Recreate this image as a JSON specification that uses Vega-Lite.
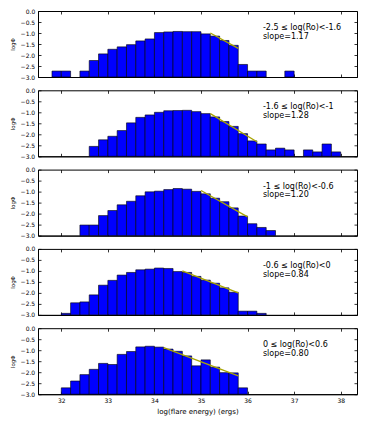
{
  "$schema": "https://vega.github.io/schema/vega-lite/v6.json",
  "padding": {"left": 9, "top": 7, "right": 5, "bottom": 3},
  "background": "white",
  "spacing": 13.3,
  "bounds": "flush",
  "config": {
    "font": "DejaVu Sans",
    "view": {"stroke": "black", "strokeWidth": 1},
    "axis": {
      "grid": false,
      "domainColor": "black",
      "domainWidth": 1,
      "tickColor": "black",
      "tickWidth": 0.8,
      "tickSize": -3,
      "labelColor": "black",
      "titleColor": "black",
      "labelFont": "DejaVu Sans",
      "titleFont": "DejaVu Sans",
      "labelFontSize": 6,
      "titleFontSize": 6,
      "titleFontWeight": "normal"
    }
  },
  "datasets": {
    "bars": [
      {"panel": 1, "lo": 31.8, "hi": 32.0, "v": -2.73},
      {"panel": 1, "lo": 32.0, "hi": 32.2, "v": -2.73},
      {"panel": 1, "lo": 32.4, "hi": 32.6, "v": -2.73},
      {"panel": 1, "lo": 32.6, "hi": 32.8, "v": -2.25},
      {"panel": 1, "lo": 32.8, "hi": 33.0, "v": -1.95},
      {"panel": 1, "lo": 33.0, "hi": 33.2, "v": -1.74},
      {"panel": 1, "lo": 33.2, "hi": 33.4, "v": -1.63},
      {"panel": 1, "lo": 33.4, "hi": 33.6, "v": -1.53},
      {"panel": 1, "lo": 33.6, "hi": 33.8, "v": -1.36},
      {"panel": 1, "lo": 33.8, "hi": 34.0, "v": -1.27},
      {"panel": 1, "lo": 34.0, "hi": 34.2, "v": -0.98},
      {"panel": 1, "lo": 34.2, "hi": 34.4, "v": -0.95},
      {"panel": 1, "lo": 34.4, "hi": 34.6, "v": -0.93},
      {"panel": 1, "lo": 34.6, "hi": 34.8, "v": -0.94},
      {"panel": 1, "lo": 34.8, "hi": 35.0, "v": -0.94},
      {"panel": 1, "lo": 35.0, "hi": 35.2, "v": -1.04},
      {"panel": 1, "lo": 35.2, "hi": 35.4, "v": -1.14},
      {"panel": 1, "lo": 35.4, "hi": 35.6, "v": -1.34},
      {"panel": 1, "lo": 35.6, "hi": 35.8, "v": -1.56},
      {"panel": 1, "lo": 35.8, "hi": 36.0, "v": -2.43},
      {"panel": 1, "lo": 36.0, "hi": 36.2, "v": -2.73},
      {"panel": 1, "lo": 36.2, "hi": 36.4, "v": -2.73},
      {"panel": 1, "lo": 36.8, "hi": 37.0, "v": -2.73},

      {"panel": 2, "lo": 32.6, "hi": 32.8, "v": -2.55},
      {"panel": 2, "lo": 32.8, "hi": 33.0, "v": -2.25},
      {"panel": 2, "lo": 33.0, "hi": 33.2, "v": -2.09},
      {"panel": 2, "lo": 33.2, "hi": 33.4, "v": -1.83},
      {"panel": 2, "lo": 33.4, "hi": 33.6, "v": -1.48},
      {"panel": 2, "lo": 33.6, "hi": 33.8, "v": -1.23},
      {"panel": 2, "lo": 33.8, "hi": 34.0, "v": -1.12},
      {"panel": 2, "lo": 34.0, "hi": 34.2, "v": -1.00},
      {"panel": 2, "lo": 34.2, "hi": 34.4, "v": -0.93},
      {"panel": 2, "lo": 34.4, "hi": 34.6, "v": -0.92},
      {"panel": 2, "lo": 34.6, "hi": 34.8, "v": -0.91},
      {"panel": 2, "lo": 34.8, "hi": 35.0, "v": -0.97},
      {"panel": 2, "lo": 35.0, "hi": 35.2, "v": -1.06},
      {"panel": 2, "lo": 35.2, "hi": 35.4, "v": -1.21},
      {"panel": 2, "lo": 35.4, "hi": 35.6, "v": -1.42},
      {"panel": 2, "lo": 35.6, "hi": 35.8, "v": -1.64},
      {"panel": 2, "lo": 35.8, "hi": 36.0, "v": -1.97},
      {"panel": 2, "lo": 36.0, "hi": 36.2, "v": -2.30},
      {"panel": 2, "lo": 36.2, "hi": 36.4, "v": -2.44},
      {"panel": 2, "lo": 36.4, "hi": 36.6, "v": -2.71},
      {"panel": 2, "lo": 36.6, "hi": 36.8, "v": -2.63},
      {"panel": 2, "lo": 36.8, "hi": 37.0, "v": -2.71},
      {"panel": 2, "lo": 37.2, "hi": 37.4, "v": -2.71},
      {"panel": 2, "lo": 37.4, "hi": 37.6, "v": -2.80},
      {"panel": 2, "lo": 37.6, "hi": 37.8, "v": -2.44},
      {"panel": 2, "lo": 37.8, "hi": 38.0, "v": -2.80},

      {"panel": 3, "lo": 32.4, "hi": 32.6, "v": -2.52},
      {"panel": 3, "lo": 32.6, "hi": 32.8, "v": -2.52},
      {"panel": 3, "lo": 32.8, "hi": 33.0, "v": -2.09},
      {"panel": 3, "lo": 33.0, "hi": 33.2, "v": -1.86},
      {"panel": 3, "lo": 33.2, "hi": 33.4, "v": -1.60},
      {"panel": 3, "lo": 33.4, "hi": 33.6, "v": -1.44},
      {"panel": 3, "lo": 33.6, "hi": 33.8, "v": -1.19},
      {"panel": 3, "lo": 33.8, "hi": 34.0, "v": -1.01},
      {"panel": 3, "lo": 34.0, "hi": 34.2, "v": -0.98},
      {"panel": 3, "lo": 34.2, "hi": 34.4, "v": -0.91},
      {"panel": 3, "lo": 34.4, "hi": 34.6, "v": -0.86},
      {"panel": 3, "lo": 34.6, "hi": 34.8, "v": -0.89},
      {"panel": 3, "lo": 34.8, "hi": 35.0, "v": -0.99},
      {"panel": 3, "lo": 35.0, "hi": 35.2, "v": -1.10},
      {"panel": 3, "lo": 35.2, "hi": 35.4, "v": -1.30},
      {"panel": 3, "lo": 35.4, "hi": 35.6, "v": -1.46},
      {"panel": 3, "lo": 35.6, "hi": 35.8, "v": -1.74},
      {"panel": 3, "lo": 35.8, "hi": 36.0, "v": -2.11},
      {"panel": 3, "lo": 36.0, "hi": 36.2, "v": -2.46},
      {"panel": 3, "lo": 36.2, "hi": 36.4, "v": -2.63},
      {"panel": 3, "lo": 36.4, "hi": 36.6, "v": -2.77},

      {"panel": 4, "lo": 32.0, "hi": 32.2, "v": -2.93},
      {"panel": 4, "lo": 32.2, "hi": 32.4, "v": -2.45},
      {"panel": 4, "lo": 32.4, "hi": 32.6, "v": -2.41},
      {"panel": 4, "lo": 32.6, "hi": 32.8, "v": -2.09},
      {"panel": 4, "lo": 32.8, "hi": 33.0, "v": -1.65},
      {"panel": 4, "lo": 33.0, "hi": 33.2, "v": -1.43},
      {"panel": 4, "lo": 33.2, "hi": 33.4, "v": -1.19},
      {"panel": 4, "lo": 33.4, "hi": 33.6, "v": -1.07},
      {"panel": 4, "lo": 33.6, "hi": 33.8, "v": -0.95},
      {"panel": 4, "lo": 33.8, "hi": 34.0, "v": -0.92},
      {"panel": 4, "lo": 34.0, "hi": 34.2, "v": -0.87},
      {"panel": 4, "lo": 34.2, "hi": 34.4, "v": -0.89},
      {"panel": 4, "lo": 34.4, "hi": 34.6, "v": -1.03},
      {"panel": 4, "lo": 34.6, "hi": 34.8, "v": -1.07},
      {"panel": 4, "lo": 34.8, "hi": 35.0, "v": -1.25},
      {"panel": 4, "lo": 35.0, "hi": 35.2, "v": -1.42},
      {"panel": 4, "lo": 35.2, "hi": 35.4, "v": -1.56},
      {"panel": 4, "lo": 35.4, "hi": 35.6, "v": -1.77},
      {"panel": 4, "lo": 35.6, "hi": 35.8, "v": -1.97},
      {"panel": 4, "lo": 35.8, "hi": 36.0, "v": -2.83},
      {"panel": 4, "lo": 36.0, "hi": 36.2, "v": -2.83},
      {"panel": 4, "lo": 36.2, "hi": 36.4, "v": -2.93},

      {"panel": 5, "lo": 32.0, "hi": 32.2, "v": -2.71},
      {"panel": 5, "lo": 32.2, "hi": 32.4, "v": -2.40},
      {"panel": 5, "lo": 32.4, "hi": 32.6, "v": -2.11},
      {"panel": 5, "lo": 32.6, "hi": 32.8, "v": -1.87},
      {"panel": 5, "lo": 32.8, "hi": 33.0, "v": -1.60},
      {"panel": 5, "lo": 33.0, "hi": 33.2, "v": -1.65},
      {"panel": 5, "lo": 33.2, "hi": 33.4, "v": -1.19},
      {"panel": 5, "lo": 33.4, "hi": 33.6, "v": -1.06},
      {"panel": 5, "lo": 33.6, "hi": 33.8, "v": -0.85},
      {"panel": 5, "lo": 33.8, "hi": 34.0, "v": -0.82},
      {"panel": 5, "lo": 34.0, "hi": 34.2, "v": -0.86},
      {"panel": 5, "lo": 34.2, "hi": 34.4, "v": -0.95},
      {"panel": 5, "lo": 34.4, "hi": 34.6, "v": -1.05},
      {"panel": 5, "lo": 34.6, "hi": 34.8, "v": -1.26},
      {"panel": 5, "lo": 34.8, "hi": 35.0, "v": -1.71},
      {"panel": 5, "lo": 35.0, "hi": 35.2, "v": -1.44},
      {"panel": 5, "lo": 35.2, "hi": 35.4, "v": -1.77},
      {"panel": 5, "lo": 35.4, "hi": 35.6, "v": -2.02},
      {"panel": 5, "lo": 35.6, "hi": 35.8, "v": -2.03},
      {"panel": 5, "lo": 35.8, "hi": 36.0, "v": -2.71}
    ],
    "fits": [
      {"panel": 1, "e": 35.2, "v": -1.0},
      {"panel": 1, "e": 35.8, "v": -1.70},
      {"panel": 2, "e": 35.2, "v": -1.06},
      {"panel": 2, "e": 36.2, "v": -2.34},
      {"panel": 3, "e": 35.0, "v": -0.95},
      {"panel": 3, "e": 36.0, "v": -2.15},
      {"panel": 4, "e": 34.6, "v": -1.0},
      {"panel": 4, "e": 35.8, "v": -2.0},
      {"panel": 5, "e": 34.2, "v": -0.88},
      {"panel": 5, "e": 35.8, "v": -2.17}
    ],
    "notes": [
      {"panel": 1, "lines": ["-2.5 ≤ log(Ro)<-1.6", "\u00a0slope=1.17"]},
      {"panel": 2, "lines": ["-1.6 ≤ log(Ro)<-1", "\u00a0slope=1.28"]},
      {"panel": 3, "lines": ["-1 ≤ log(Ro)<-0.6", "\u00a0slope=1.20"]},
      {"panel": 4, "lines": ["-0.6 ≤ log(Ro)<0", "\u00a0slope=0.84"]},
      {"panel": 5, "lines": ["0 ≤ log(Ro)<0.6", "\u00a0slope=0.80"]}
    ]
  },
  "vconcat": [
    {
      "width": 319, "height": 66,
      "layer": [
        {"data": {"name": "bars"}, "transform": [{"filter": "datum.panel == 1"}],
         "mark": {"type": "bar", "fill": "#0000ff", "stroke": "#000000", "strokeWidth": 0.6},
         "encoding": {
           "x": {"field": "lo", "type": "quantitative", "scale": {"domain": [31.5, 38.35], "nice": false, "zero": false},
                 "axis": {"orient": "bottom", "values": [32,33,34,35,36,37,38], "labels": false, "title": null}},
           "x2": {"field": "hi"},
           "y": {"field": "v", "type": "quantitative", "scale": {"domain": [-3, 0], "nice": false, "zero": false},
                 "axis": {"orient": "left", "values": [0,-0.5,-1,-1.5,-2,-2.5,-3], "format": ".1f", "title": "logΦ", "labelPadding": 6.3, "titlePadding": 5, "titleFontSize": 5.5}},
           "y2": {"datum": -3}
         }},
        {"data": {"name": "fits"}, "transform": [{"filter": "datum.panel == 1"}],
         "mark": {"type": "line", "color": "#a8a400", "strokeWidth": 1.3},
         "encoding": {
           "x": {"field": "e", "type": "quantitative", "axis": {"orient": "top", "values": [32,33,34,35,36,37,38], "labels": false, "title": null, "domain": false}},
           "y": {"field": "v", "type": "quantitative", "axis": {"orient": "right", "values": [0,-0.5,-1,-1.5,-2,-2.5,-3], "labels": false, "title": null, "domain": false}}
         }},
        {"data": {"name": "notes"}, "transform": [{"filter": "datum.panel == 1"}],
         "mark": {"type": "text", "align": "left", "baseline": "alphabetic", "fontSize": 8, "lineHeight": 8.7, "color": "black"},
         "encoding": {
           "x": {"datum": 36.33, "type": "quantitative", "axis": null},
           "y": {"datum": -0.87, "type": "quantitative", "axis": null},
           "text": {"field": "lines"}
         }}
      ]
    },
    {
      "width": 319, "height": 66,
      "layer": [
        {"data": {"name": "bars"}, "transform": [{"filter": "datum.panel == 2"}],
         "mark": {"type": "bar", "fill": "#0000ff", "stroke": "#000000", "strokeWidth": 0.6},
         "encoding": {
           "x": {"field": "lo", "type": "quantitative", "scale": {"domain": [31.5, 38.35], "nice": false, "zero": false},
                 "axis": {"orient": "bottom", "values": [32,33,34,35,36,37,38], "labels": false, "title": null}},
           "x2": {"field": "hi"},
           "y": {"field": "v", "type": "quantitative", "scale": {"domain": [-3, 0], "nice": false, "zero": false},
                 "axis": {"orient": "left", "values": [0,-0.5,-1,-1.5,-2,-2.5,-3], "format": ".1f", "title": "logΦ", "labelPadding": 6.3, "titlePadding": 5, "titleFontSize": 5.5}},
           "y2": {"datum": -3}
         }},
        {"data": {"name": "fits"}, "transform": [{"filter": "datum.panel == 2"}],
         "mark": {"type": "line", "color": "#a8a400", "strokeWidth": 1.3},
         "encoding": {
           "x": {"field": "e", "type": "quantitative", "axis": {"orient": "top", "values": [32,33,34,35,36,37,38], "labels": false, "title": null, "domain": false}},
           "y": {"field": "v", "type": "quantitative", "axis": {"orient": "right", "values": [0,-0.5,-1,-1.5,-2,-2.5,-3], "labels": false, "title": null, "domain": false}}
         }},
        {"data": {"name": "notes"}, "transform": [{"filter": "datum.panel == 2"}],
         "mark": {"type": "text", "align": "left", "baseline": "alphabetic", "fontSize": 8, "lineHeight": 8.7, "color": "black"},
         "encoding": {
           "x": {"datum": 36.33, "type": "quantitative", "axis": null},
           "y": {"datum": -0.87, "type": "quantitative", "axis": null},
           "text": {"field": "lines"}
         }}
      ]
    },
    {
      "width": 319, "height": 66,
      "layer": [
        {"data": {"name": "bars"}, "transform": [{"filter": "datum.panel == 3"}],
         "mark": {"type": "bar", "fill": "#0000ff", "stroke": "#000000", "strokeWidth": 0.6},
         "encoding": {
           "x": {"field": "lo", "type": "quantitative", "scale": {"domain": [31.5, 38.35], "nice": false, "zero": false},
                 "axis": {"orient": "bottom", "values": [32,33,34,35,36,37,38], "labels": false, "title": null}},
           "x2": {"field": "hi"},
           "y": {"field": "v", "type": "quantitative", "scale": {"domain": [-3, 0], "nice": false, "zero": false},
                 "axis": {"orient": "left", "values": [0,-0.5,-1,-1.5,-2,-2.5,-3], "format": ".1f", "title": "logΦ", "labelPadding": 6.3, "titlePadding": 5, "titleFontSize": 5.5}},
           "y2": {"datum": -3}
         }},
        {"data": {"name": "fits"}, "transform": [{"filter": "datum.panel == 3"}],
         "mark": {"type": "line", "color": "#a8a400", "strokeWidth": 1.3},
         "encoding": {
           "x": {"field": "e", "type": "quantitative", "axis": {"orient": "top", "values": [32,33,34,35,36,37,38], "labels": false, "title": null, "domain": false}},
           "y": {"field": "v", "type": "quantitative", "axis": {"orient": "right", "values": [0,-0.5,-1,-1.5,-2,-2.5,-3], "labels": false, "title": null, "domain": false}}
         }},
        {"data": {"name": "notes"}, "transform": [{"filter": "datum.panel == 3"}],
         "mark": {"type": "text", "align": "left", "baseline": "alphabetic", "fontSize": 8, "lineHeight": 8.7, "color": "black"},
         "encoding": {
           "x": {"datum": 36.33, "type": "quantitative", "axis": null},
           "y": {"datum": -0.87, "type": "quantitative", "axis": null},
           "text": {"field": "lines"}
         }}
      ]
    },
    {
      "width": 319, "height": 66,
      "layer": [
        {"data": {"name": "bars"}, "transform": [{"filter": "datum.panel == 4"}],
         "mark": {"type": "bar", "fill": "#0000ff", "stroke": "#000000", "strokeWidth": 0.6},
         "encoding": {
           "x": {"field": "lo", "type": "quantitative", "scale": {"domain": [31.5, 38.35], "nice": false, "zero": false},
                 "axis": {"orient": "bottom", "values": [32,33,34,35,36,37,38], "labels": false, "title": null}},
           "x2": {"field": "hi"},
           "y": {"field": "v", "type": "quantitative", "scale": {"domain": [-3, 0], "nice": false, "zero": false},
                 "axis": {"orient": "left", "values": [0,-0.5,-1,-1.5,-2,-2.5,-3], "format": ".1f", "title": "logΦ", "labelPadding": 6.3, "titlePadding": 5, "titleFontSize": 5.5}},
           "y2": {"datum": -3}
         }},
        {"data": {"name": "fits"}, "transform": [{"filter": "datum.panel == 4"}],
         "mark": {"type": "line", "color": "#a8a400", "strokeWidth": 1.3},
         "encoding": {
           "x": {"field": "e", "type": "quantitative", "axis": {"orient": "top", "values": [32,33,34,35,36,37,38], "labels": false, "title": null, "domain": false}},
           "y": {"field": "v", "type": "quantitative", "axis": {"orient": "right", "values": [0,-0.5,-1,-1.5,-2,-2.5,-3], "labels": false, "title": null, "domain": false}}
         }},
        {"data": {"name": "notes"}, "transform": [{"filter": "datum.panel == 4"}],
         "mark": {"type": "text", "align": "left", "baseline": "alphabetic", "fontSize": 8, "lineHeight": 8.7, "color": "black"},
         "encoding": {
           "x": {"datum": 36.33, "type": "quantitative", "axis": null},
           "y": {"datum": -0.87, "type": "quantitative", "axis": null},
           "text": {"field": "lines"}
         }}
      ]
    },
    {
      "width": 319, "height": 66,
      "layer": [
        {"data": {"name": "bars"}, "transform": [{"filter": "datum.panel == 5"}],
         "mark": {"type": "bar", "fill": "#0000ff", "stroke": "#000000", "strokeWidth": 0.6},
         "encoding": {
           "x": {"field": "lo", "type": "quantitative", "scale": {"domain": [31.5, 38.35], "nice": false, "zero": false},
                 "axis": {"orient": "bottom", "values": [32,33,34,35,36,37,38], "format": "d", "title": "log(flare energy) (ergs)", "labelPadding": 6.5, "titlePadding": 4, "titleFontSize": 7}},
           "x2": {"field": "hi"},
           "y": {"field": "v", "type": "quantitative", "scale": {"domain": [-3, 0], "nice": false, "zero": false},
                 "axis": {"orient": "left", "values": [0,-0.5,-1,-1.5,-2,-2.5,-3], "format": ".1f", "title": "logΦ", "labelPadding": 6.3, "titlePadding": 5, "titleFontSize": 5.5}},
           "y2": {"datum": -3}
         }},
        {"data": {"name": "fits"}, "transform": [{"filter": "datum.panel == 5"}],
         "mark": {"type": "line", "color": "#a8a400", "strokeWidth": 1.3},
         "encoding": {
           "x": {"field": "e", "type": "quantitative", "axis": {"orient": "top", "values": [32,33,34,35,36,37,38], "labels": false, "title": null, "domain": false}},
           "y": {"field": "v", "type": "quantitative", "axis": {"orient": "right", "values": [0,-0.5,-1,-1.5,-2,-2.5,-3], "labels": false, "title": null, "domain": false}}
         }},
        {"data": {"name": "notes"}, "transform": [{"filter": "datum.panel == 5"}],
         "mark": {"type": "text", "align": "left", "baseline": "alphabetic", "fontSize": 8, "lineHeight": 8.7, "color": "black"},
         "encoding": {
           "x": {"datum": 36.33, "type": "quantitative", "axis": null},
           "y": {"datum": -0.87, "type": "quantitative", "axis": null},
           "text": {"field": "lines"}
         }}
      ]
    }
  ]
}
